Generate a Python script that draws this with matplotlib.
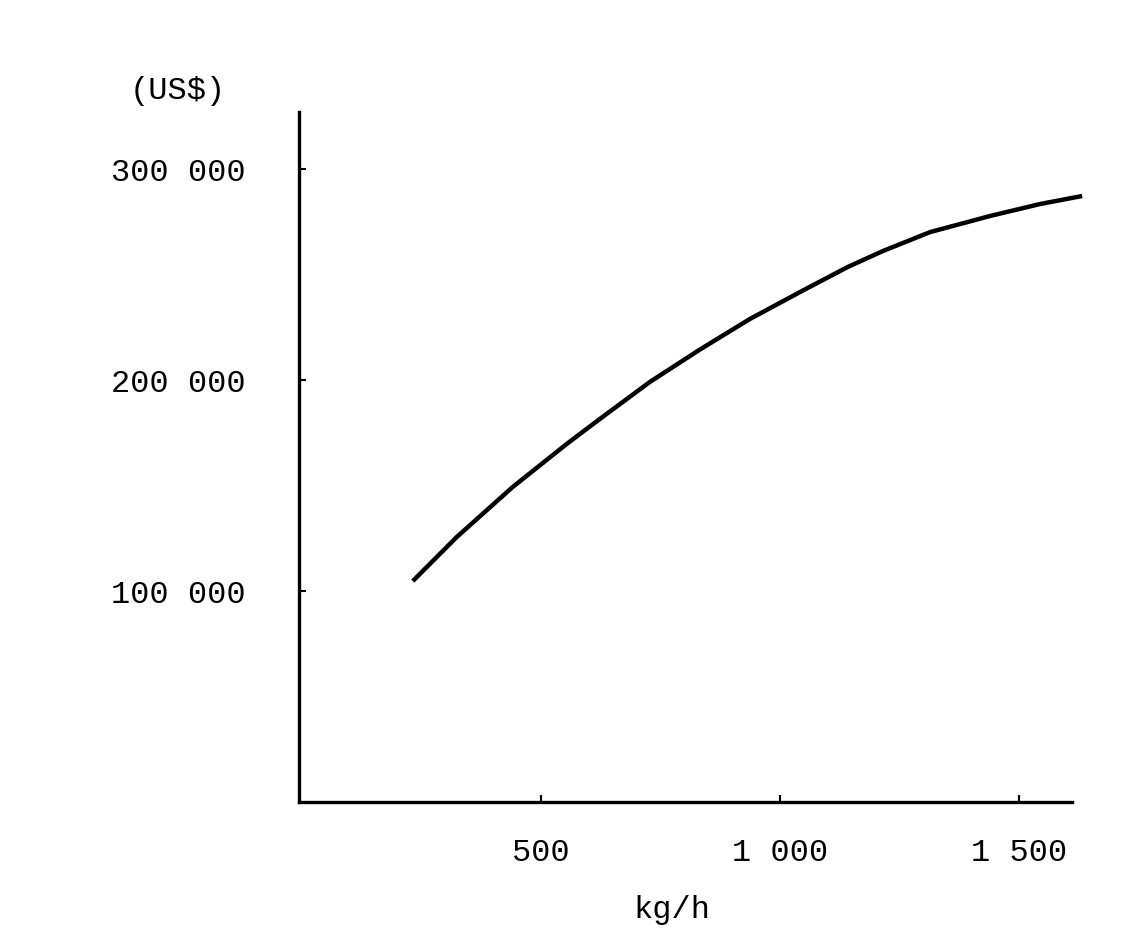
import matplotlib.pyplot as plt

# capacity (kg/h) vs cost (US$)
capacity = [232, 324, 441, 554, 623, 728, 833, 937, 1042, 1142, 1215, 1314, 1439, 1544, 1632]
cost = [104700, 125600, 149300, 169700, 181500, 199100, 214500, 228900,
        241700, 253600, 261100, 270100, 277700, 283400, 287200]

x_ticks = [500, 1000, 1500]
x_labels = ["500", "1 000", "1 500"]
y_ticks = [100000, 200000, 300000]
y_labels = ["100 000", "200 000", "300 000"]

plt.rcParams["font.family"] = ["Liberation Mono", "DejaVu Sans"]

fig = plt.figure(figsize=(11.47, 9.53), dpi=100)
ax = fig.add_axes([0.2607, 0.1574, 0.674, 0.724])

ax.plot(capacity, cost, color="black", lw=3.2, solid_capstyle="butt",
        solid_joinstyle="round", clip_on=False)

ax.set_xlim(-6, 1611)
ax.set_ylim(0, 327000)

for s in ["top", "right"]:
    ax.spines[s].set_visible(False)
for s in ["left", "bottom"]:
    ax.spines[s].set_linewidth(2.4)

ax.set_xticks(x_ticks)
ax.set_xticklabels(x_labels, fontsize=23)
ax.set_yticks(y_ticks)
ax.set_yticklabels(y_labels, fontsize=23)
ax.tick_params(axis="x", direction="in", length=5, width=1.5, pad=25)
ax.tick_params(axis="y", direction="in", length=5, width=1.5, pad=38)

fig.text(0.113, 0.905, "(US$)", fontsize=23, ha="left", va="center")
fig.text(0.586, 0.045, "kg/h", fontsize=23, ha="center", va="center")

fig.savefig("out.png", dpi=100, facecolor="white")
